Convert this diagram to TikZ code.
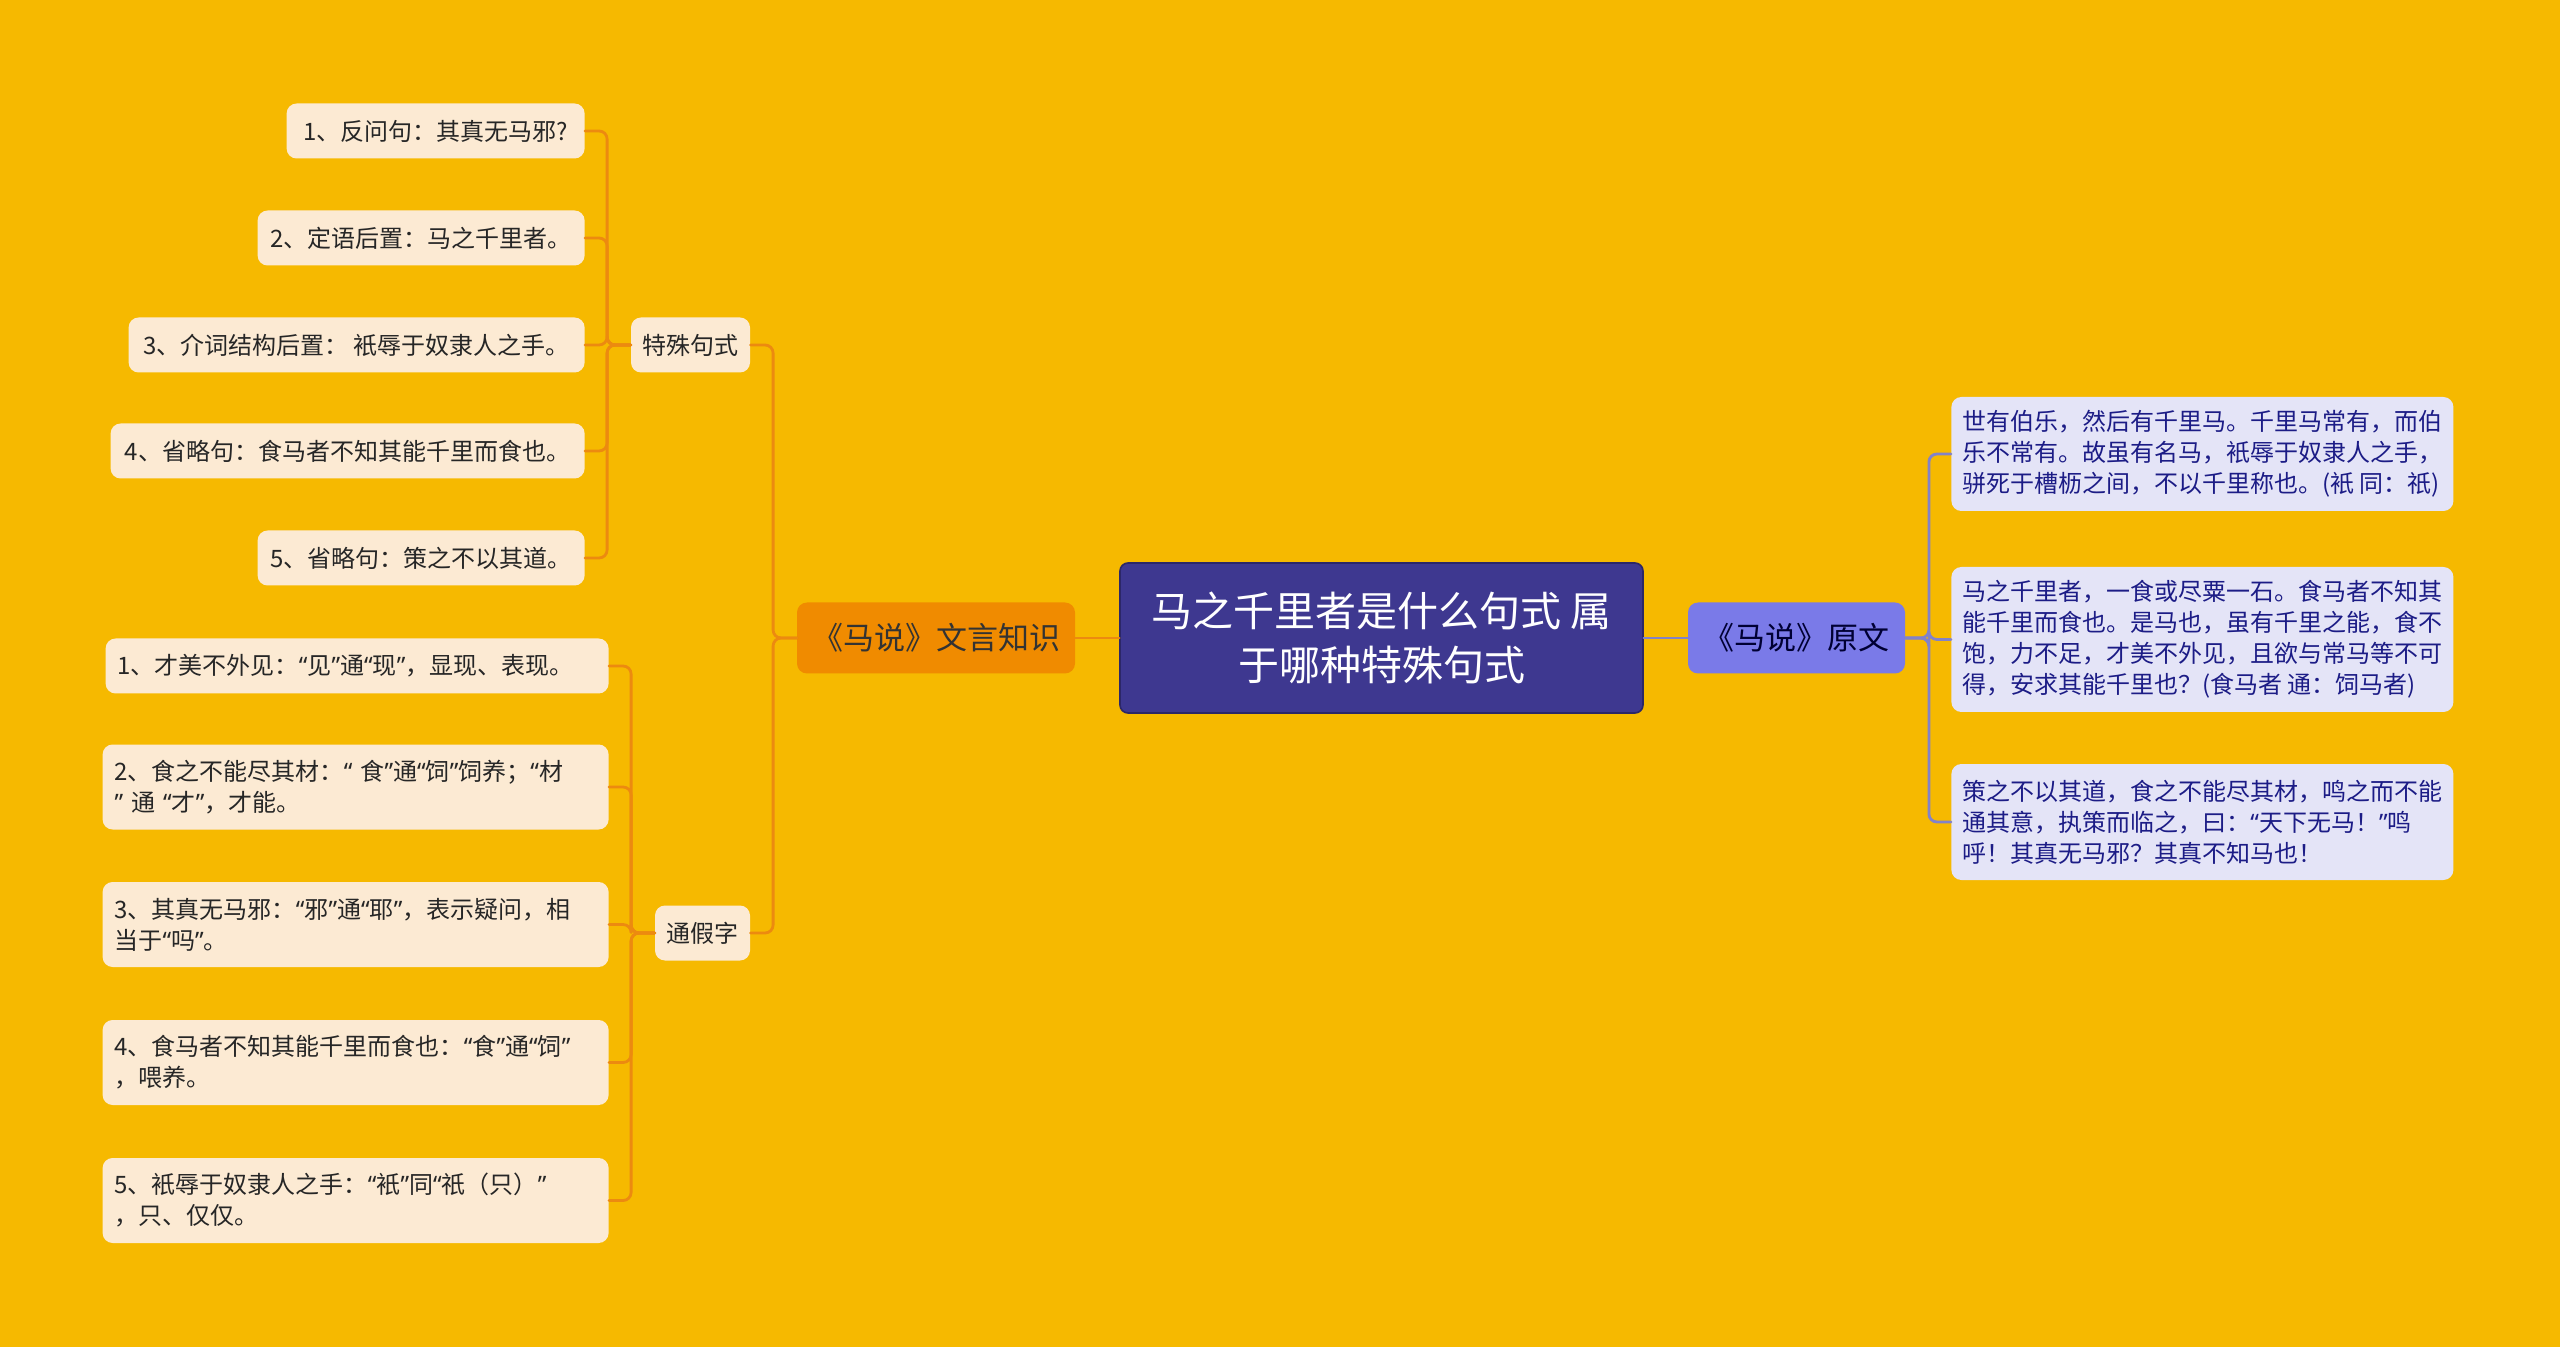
\documentclass[tikz,border=0pt]{standalone}
\usepackage{fontspec}
\setmainfont{Noto Sans CJK SC}
\newfontfamily\qfont{Noto Sans}
\newcommand\qo{{\qfont “}}
\newcommand\qc{{\qfont ”}}
\definecolor{nen}{HTML}{F6B900}
\definecolor{kem}{HTML}{FCEAD3}
\definecolor{camday}{HTML}{EC8A10}
\definecolor{camnut}{HTML}{F08B00}
\definecolor{tim}{HTML}{3E3890}
\definecolor{timvien}{HTML}{2C2768}
\definecolor{timl}{HTML}{7A7AE8}
\definecolor{timnhat}{HTML}{E4E4F7}
\definecolor{timday}{HTML}{8282C8}
\definecolor{chuxanh}{HTML}{1C1C86}
\begin{document}
\begin{tikzpicture}[x=0.5pt, y=-0.5pt, line join=round, line cap=round,
	la/.style={fill=kem, text=black!85, rounded corners=5pt, font=\fontsize{12}{15.5}\selectfont, align=left, inner sep=0pt, anchor=east, minimum height=27.5pt},
	lt/.style={la, inner xsep=6pt, text width=241pt, minimum height=42.5pt},
	lp/.style={fill=timnhat, text=chuxanh, rounded corners=5pt, font=\fontsize{12}{15.5}\selectfont, align=left, inner sep=0pt, anchor=west, minimum width=251pt},
	nhanh/.style={fill=kem, text=black!85, rounded corners=5pt, font=\fontsize{12}{15.5}\selectfont, inner sep=0pt, minimum height=27.5pt},
	dayc/.style={draw=camday, line width=1.4pt, rounded corners=4pt},
	dayp/.style={draw=timday, line width=1.4pt, rounded corners=4pt}]
	\def\gap{23.5} %nửa khoảng cách giữa hai cột
	\fill[nen] (0,0) rectangle (2560,1347);
	\useasboundingbox (0,0) rectangle (2560,1347);
	% nut goc
	\node[fill=tim, draw=timvien, line width=0.8pt, rounded corners=4pt, text=white, font=\fontsize{20.5}{27}\selectfont, align=center, minimum width=261.5pt, minimum height=75pt, inner sep=0pt] (goc) at (1381.5,638) {马之千里者是什么句式 属\\于哪种特殊句式};
	\node[fill=camnut, text=black!80, rounded corners=5pt, font=\fontsize{15.5}{18}\selectfont, minimum width=139pt, minimum height=35.5pt, inner sep=0pt] (vanngon) at (936,638) {《马说》文言知识};
	\node[fill=timl, text=black!80!blue, rounded corners=5pt, font=\fontsize{15.5}{18}\selectfont, minimum width=108.5pt, minimum height=35.5pt, inner sep=0pt] (nguyenvan) at (1796.5,638) {《马说》原文};
	\node[nhanh, minimum width=59.5pt] (tsjs) at (690.5,345) {特殊句式};
	\node[nhanh, minimum width=47.5pt] (tgt) at (702.5,933) {通假字};
	% la: dac biet cau
	\node[la, minimum width=149pt] (s1) at (585,131) {1、反问句：其真无马邪?};
	\node[la, minimum width=163.5pt] (s2) at (585,238) {2、定语后置：马之千里者。};
	\node[la, minimum width=228pt] (s3) at (585,345) {3、介词结构后置： 衹辱于奴隶人之手。};
	\node[la, minimum width=237pt] (s4) at (585,451) {4、省略句：食马者不知其能千里而食也。};
	\node[la, minimum width=163.5pt] (s5) at (585,558) {5、省略句：策之不以其道。};
	% la: thong gia tu
	\node[lt, text width=239.5pt, minimum height=27.5pt] (t1) at (609,666) {1、才美不外见：\qo 见\qc 通\qo 现\qc ，显现、表现。};
	\node[lt] (t2) at (609,787) {2、食之不能尽其材：\qo\ 食\qc 通\qo 饲\qc 饲养；\qo 材\\\qc\ 通 \qo 才\qc ，才能。};
	\node[lt] (t3) at (609,924.5) {3、其真无马邪：\qo 邪\qc 通\qo 耶\qc ，表示疑问，相\\当于\qo 吗\qc 。};
	\node[lt] (t4) at (609,1062.5) {4、食马者不知其能千里而食也：\qo 食\qc 通\qo 饲\qc\\，喂养。};
	\node[lt] (t5) at (609,1200.5) {5、衹辱于奴隶人之手：\qo 衹\qc 同\qo 祇（只）\qc\\，只、仅仅。};
	% la: nguyen van
	\node[lp, minimum height=57pt] (r1) at (1951,454) {世有伯乐，然后有千里马。千里马常有，而伯\\乐不常有。故虽有名马，衹辱于奴隶人之手，\\骈死于槽枥之间，不以千里称也。(衹 同：祇)};
	\node[lp, minimum height=72.5pt] (r2) at (1951,639.5) {马之千里者，一食或尽粟一石。食马者不知其\\能千里而食也。是马也，虽有千里之能，食不\\饱，力不足，才美不外见，且欲与常马等不可\\得，安求其能千里也？(食马者 通：饲马者)};
	\node[lp, minimum height=58pt] (r3) at (1951,822) {策之不以其道，食之不能尽其材，鸣之而不能\\通其意，执策而临之，曰：\qo 天下无马！\qc 鸣\\呼！其真无马邪？其真不知马也！};
	% day noi
	\draw[dayc] (goc.west) -- (vanngon.east);
	\draw[dayp] (goc.east) -- (nguyenvan.west);
	\foreach \n in {tsjs,tgt} \draw[dayc] (vanngon.west) -- ++(-\gap,0) |- (\n.east);
	\foreach \n in {s1,s2,s3,s4,s5} \draw[dayc] (tsjs.west) -- ++(-\gap,0) |- (\n.east);
	\foreach \n in {t1,t2,t3,t4,t5} \draw[dayc] (tgt.west) -- ++(-\gap,0) |- (\n.east);
	\foreach \n in {r1,r2,r3} \draw[dayp] (nguyenvan.east) -- ++(\gap,0) |- (\n.west);
\end{tikzpicture}
\end{document}
